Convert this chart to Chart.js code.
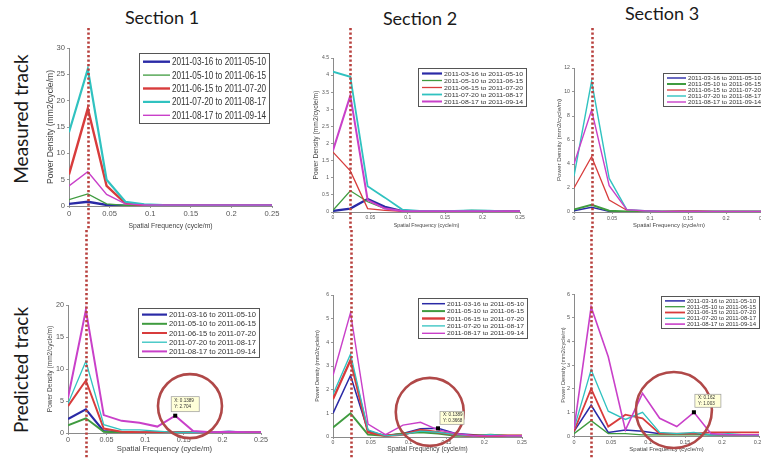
<!DOCTYPE html>
<html><head><meta charset="utf-8">
<script src="https://cdn.jsdelivr.net/npm/chart.js@4/dist/chart.umd.min.js"></script>
<style>
html,body{margin:0;padding:0;background:#fff;overflow:hidden}
#wrap{position:relative;width:761px;height:459px;overflow:hidden;background:#fff}
#wrap canvas{position:absolute}
.sec{position:absolute;font-family:Lato,"Open Sans",sans-serif;font-size:18px;color:#1a1a1a;white-space:nowrap;transform:translate(-50%,-50%)}
.row{position:absolute;font-family:Lato,"Open Sans",sans-serif;font-size:19px;color:#1a1a1a;white-space:nowrap;transform:translate(-50%,-50%) rotate(-90deg)}
</style></head>
<body><div id="wrap">
<div class="sec" style="left:162px;top:17px">Section 1</div>
<div class="sec" style="left:420px;top:18px">Section 2</div>
<div class="sec" style="left:662px;top:13px">Section 3</div>
<div class="row" style="left:20px;top:119px">Measured track</div>
<div class="row" style="left:20px;top:370px">Predicted track</div>
</div>
<script>
// ---- data ----
const freq = [0, 0.02315, 0.0463, 0.06944, 0.09259, 0.11574, 0.13889, 0.16204, 0.18519, 0.20833, 0.23148, 0.25463];
const seriesLabels = ['2011-03-16 to 2011-05-10','2011-05-10 to 2011-06-15','2011-06-15 to 2011-07-20','2011-07-20 to 2011-08-17','2011-08-17 to 2011-09-14'];
const xTicks = [0, 0.05, 0.1, 0.15, 0.2, 0.25];
const markFreq = 0.02315;

// Measured track, Section 1
const m1Blue    = [0.4, 0.8, 0.2, 0.05, 0.05, 0.05, 0.05, 0.05, 0.05, 0.05, 0.05, 0.05];
const m1Green   = [1.2, 2.3, 0.4, 0.1, 0.05, 0.05, 0.05, 0.05, 0.05, 0.05, 0.05, 0.05];
const m1Red     = [6.0, 18.5, 3.8, 0.5, 0.15, 0.1, 0.1, 0.1, 0.1, 0.1, 0.1, 0.1];
const m1Teal    = [14.0, 26.0, 5.0, 0.8, 0.3, 0.15, 0.1, 0.1, 0.1, 0.1, 0.1, 0.1];
const m1Magenta = [3.8, 6.5, 2.2, 0.4, 0.2, 0.2, 0.2, 0.2, 0.2, 0.2, 0.2, 0.2];
// Measured track, Section 2
const m2Blue    = [0.03, 0.1, 0.38, 0.15, 0.03, 0.02, 0.02, 0.02, 0.02, 0.02, 0.02, 0.02];
const m2Green   = [0.05, 0.62, 0.3, 0.1, 0.03, 0.02, 0.02, 0.03, 0.05, 0.04, 0.02, 0.02];
const m2Red     = [1.75, 1.2, 0.1, 0.05, 0.02, 0.02, 0.02, 0.02, 0.02, 0.02, 0.02, 0.02];
const m2Teal    = [4.1, 3.95, 0.75, 0.42, 0.07, 0.03, 0.03, 0.03, 0.05, 0.04, 0.02, 0.02];
const m2Magenta = [1.8, 3.4, 0.35, 0.1, 0.03, 0.02, 0.02, 0.02, 0.02, 0.02, 0.02, 0.02];
// Measured track, Section 3
const m3Blue    = [0.1, 0.4, 0.05, 0.03, 0.03, 0.03, 0.03, 0.03, 0.03, 0.03, 0.03, 0.03];
const m3Green   = [0.2, 0.6, 0.1, 0.05, 0.05, 0.05, 0.05, 0.05, 0.05, 0.05, 0.05, 0.05];
const m3Red     = [2.0, 4.6, 1.0, 0.15, 0.1, 0.05, 0.1, 0.1, 0.05, 0.05, 0.05, 0.05];
const m3Teal    = [3.0, 10.9, 2.8, 0.2, 0.1, 0.05, 0.05, 0.05, 0.05, 0.05, 0.05, 0.05];
const m3Magenta = [4.0, 8.5, 2.2, 0.2, 0.1, 0.05, 0.05, 0.05, 0.05, 0.05, 0.05, 0.05];
// Predicted track, Section 1
const p1Blue    = [2.2, 3.7, 0.3, 0.1, 0.05, 0.05, 0.05, 0.05, 0.05, 0.05, 0.05, 0.05];
const p1Green   = [1.2, 2.3, 0.2, 0.05, 0.05, 0.05, 0.05, 0.05, 0.05, 0.05, 0.05, 0.05];
const p1Red     = [4.2, 8.2, 0.7, 0.2, 0.1, 0.1, 0.1, 0.1, 0.1, 0.1, 0.1, 0.1];
const p1Teal    = [4.6, 11.2, 1.3, 0.5, 0.5, 0.3, 0.1, 0.1, 0.1, 0.3, 0.1, 0.1];
const p1Magenta = [5.5, 19.2, 2.8, 1.9, 1.6, 1.0, 2.704, 0.3, 0.1, 0.2, 0.1, 0.1];
// Predicted track, Section 2
const p2Blue    = [1.0, 2.6, 0.25, 0.05, 0.15, 0.35, 0.3668, 0.15, 0.1, 0.05, 0.05, 0.05];
const p2Green   = [0.4, 1.0, 0.1, 0.05, 0.15, 0.2, 0.15, 0.05, 0.05, 0.1, 0.05, 0.05];
const p2Red     = [1.6, 3.25, 0.2, 0.05, 0.1, 0.3, 0.2, 0.1, 0.05, 0.05, 0.05, 0.05];
const p2Teal    = [1.8, 3.5, 0.3, 0.05, 0.1, 0.25, 0.2, 0.1, 0.05, 0.1, 0.05, 0.05];
const p2Magenta = [2.6, 5.25, 0.55, 0.1, 0.5, 0.62, 0.3, 0.15, 0.05, 0.05, 0.05, 0.05];
// Predicted track, Section 3
const p3Blue    = [0.2, 1.3, 0.15, 0.25, 0.2, 0.1, 0.1, 0.1, 0.05, 0.05, 0.05, 0.05];
const p3Green   = [0.1, 0.65, 0.1, 0.1, 0.05, 0.05, 0.05, 0.05, 0.05, 0.05, 0.05, 0.05];
const p3Red     = [0.2, 2.0, 0.4, 0.9, 0.75, 0.1, 0.1, 0.1, 0.15, 0.15, 0.15, 0.15];
const p3Teal    = [0.3, 2.8, 1.05, 0.7, 1.0, 0.15, 0.1, 0.15, 0.05, 0.1, 0.05, 0.05];
const p3Magenta = [0.3, 5.45, 3.35, 0.25, 1.8, 0.75, 0.4, 1.003, 0.1, 0.05, 0.05, 0.05];

// ---- styles / layout ----
const seriesColors = ['#2a2aa6', '#3f9b3f', '#d83c3c', '#30c2c0', '#c940c9'];
const tickFamily = '"Liberation Sans", Arial, sans-serif';

const panels = [
  { series:[m1Blue,m1Green,m1Red,m1Teal,m1Magenta], widths:[2.4,1.3,2.4,2.2,1.4], yMax:30, yStep:5,
    plot:{L:69,T:48,R:272,B:206}, canvas:{l:44,t:28,r:282,b:230},
    tickFont:7.6, xTitleFont:6.8, xTitlePad:0, yTitleFont:8.6, yTitlePad:1.8,
    legend:{x:139,y:53,w:131,h:71,sample:27} },
  { series:[m2Blue,m2Green,m2Red,m2Teal,m2Magenta], widths:[2.2,1.3,1.3,1.8,2.0], yMax:4.5, yStep:0.5,
    plot:{L:333,T:58,R:520,B:212}, canvas:{l:310,t:28,r:532,b:230},
    tickFont:5, xTitleFont:5.3, xTitlePad:1.1, yTitleFont:6.7, yTitlePad:2.4,
    legend:{x:418,y:68,w:109,h:39,sample:20} },
  { series:[m3Blue,m3Green,m3Red,m3Teal,m3Magenta], widths:[1.4,2.0,1.3,1.4,1.4], yMax:12, yStep:2,
    plot:{L:574,T:68,R:764,B:212}, canvas:{l:553,t:28,r:772,b:230},
    tickFont:5.2, xTitleFont:5.8, xTitlePad:1.1, yTitleFont:6.2, yTitlePad:2.4,
    legend:{x:663,y:73,w:102,h:34,sample:19} },
  { series:[p1Blue,p1Green,p1Red,p1Teal,p1Magenta], widths:[2.2,2.0,2.0,1.3,2.0], yMax:20, yStep:5,
    plot:{L:68,T:305,R:261,B:433}, canvas:{l:44,t:230,r:272,b:459},
    tickFont:7.2, xTitleFont:7.7, xTitlePad:5.2, yTitleFont:6.5, yTitlePad:2.6,
    legend:{x:138,y:308,w:122,h:50,sample:25},
    circle:{x:0.158, y:4.2, r:32},
    tip:{series:4, index:6, dx:-4, dy:-19, w:28, h:15} },
  { series:[p2Blue,p2Green,p2Red,p2Teal,p2Magenta], widths:[1.5,2.0,2.4,1.3,1.4], yMax:6, yStep:1,
    plot:{L:333,T:295,R:522,B:437}, canvas:{l:310,t:230,r:532,b:459},
    tickFont:5.1, xTitleFont:6.5, xTitlePad:6.1, yTitleFont:5.4, yTitlePad:4.3,
    legend:{x:418,y:298,w:110,h:41,sample:23},
    circle:{x:0.128, y:1.06, r:34},
    tip:{series:0, index:6, dx:2, dy:-17, w:24, h:13} },
  { series:[p3Blue,p3Green,p3Red,p3Teal,p3Magenta], widths:[1.5,1.3,1.8,1.3,1.6], yMax:6, yStep:1,
    plot:{L:574,T:294,R:759,B:436}, canvas:{l:553,t:230,r:770,b:459},
    tickFont:5.5, xTitleFont:6.0, xTitlePad:6.1, yTitleFont:5.7, yTitlePad:7.1,
    legend:{x:661,y:296,w:99,h:33,sample:20},
    circle:{x:0.135, y:1.1, r:38},
    tip:{series:4, index:7, dx:1, dy:-18, w:26, h:13} }
];

function fmt(v){ return String(+(+v).toFixed(3)); }

function overlay(p){
  return {
    id:'overlay',
    afterDraw(chart){
      const ctx = chart.ctx, xs = chart.scales.x, ys = chart.scales.y;
      const ox = p.canvas.l, oy = p.canvas.t;
      ctx.save();
      // legend
      const L = p.legend, lx = L.x-ox, ly = L.y-oy;
      ctx.fillStyle = '#ffffff';
      ctx.fillRect(lx, ly, L.w, L.h);
      ctx.strokeStyle = '#555'; ctx.lineWidth = 1; ctx.setLineDash([]);
      ctx.strokeRect(lx+0.5, ly+0.5, L.w-1, L.h-1);
      const rowH = (L.h-4)/5;
      const tx = lx + 4 + L.sample + 2, tw = L.w - (L.sample + 6) - 4;
      seriesLabels.forEach((lab,i)=>{
        const cy = ly + 2 + rowH*(i+0.5);
        ctx.beginPath(); ctx.moveTo(lx+4, cy); ctx.lineTo(lx+4+L.sample, cy);
        ctx.strokeStyle = seriesColors[i]; ctx.lineWidth = p.widths[i]; ctx.stroke();
        const fs = rowH*0.82;
        ctx.font = fs + 'px ' + tickFamily;
        const mw = ctx.measureText(lab).width;
        ctx.save(); ctx.translate(tx, cy); ctx.scale(tw/mw, 1);
        ctx.fillStyle = '#333'; ctx.textBaseline = 'middle'; ctx.textAlign = 'left';
        ctx.fillText(lab, 0, 0.5); ctx.restore();
      });
      // circle
      if (p.circle){
        ctx.beginPath();
        ctx.arc(xs.getPixelForValue(p.circle.x), ys.getPixelForValue(p.circle.y), p.circle.r, 0, Math.PI*2);
        ctx.strokeStyle = '#b04848'; ctx.lineWidth = 2.6; ctx.stroke();
      }
      // data tip
      if (p.tip){
        const t = p.tip, xv = freq[t.index], yv = p.series[t.series][t.index];
        const px = xs.getPixelForValue(xv), py = ys.getPixelForValue(yv);
        ctx.fillStyle = '#000'; ctx.fillRect(px-2, py-2, 4, 4);
        const bx = px + t.dx, by = py + t.dy;
        ctx.fillStyle = '#ffffd8'; ctx.fillRect(bx, by, t.w, t.h);
        ctx.strokeStyle = '#999'; ctx.lineWidth = 0.7; ctx.strokeRect(bx, by, t.w, t.h);
        ctx.fillStyle = '#333'; ctx.font = '4.6px ' + tickFamily; ctx.textBaseline = 'middle'; ctx.textAlign = 'left';
        ctx.fillText('X: ' + (+xv.toFixed(4)), bx+3, by + t.h*0.3);
        ctx.fillText('Y: ' + (+yv.toFixed(4)), bx+3, by + t.h*0.7);
      }
      // red dotted reference line
      const mx = Math.round(xs.getPixelForValue(markFreq)) + 0.5;
      ctx.beginPath(); ctx.moveTo(mx, 0); ctx.lineTo(mx, chart.height);
      ctx.strokeStyle = '#b8423f'; ctx.lineWidth = 2.6; ctx.setLineDash([2.2, 2.3]); ctx.stroke();
      ctx.restore();
    }
  };
}

const wrap = document.getElementById('wrap');
panels.forEach(p=>{
  const cw = p.canvas.r - p.canvas.l, ch = p.canvas.b - p.canvas.t;
  const cv = document.createElement('canvas');
  cv.width = cw; cv.height = ch;
  cv.style.left = p.canvas.l + 'px'; cv.style.top = p.canvas.t + 'px';
  cv.style.width = cw + 'px'; cv.style.height = ch + 'px';
  wrap.appendChild(cv);
  const datasets = p.series.map((arr,i)=>({
    label: seriesLabels[i],
    data: arr.map((v,k)=>({x: freq[k], y: v})),
    borderColor: seriesColors[i], backgroundColor: seriesColors[i],
    borderWidth: p.widths[i], pointRadius: 0, tension: 0, fill: false, order: 5 - i
  }));
  const yTicks = [];
  for (let v = 0; v <= p.yMax + 1e-9; v += p.yStep) yTicks.push(+v.toFixed(3));
  new Chart(cv, {
    type: 'line',
    data: { datasets },
    options: {
      responsive: false, animation: false, devicePixelRatio: 1,
      layout: { padding: { top: p.plot.T - p.canvas.t, right: p.canvas.r - p.plot.R, left: 0, bottom: 0 } },
      plugins: { legend: { display: false }, tooltip: { enabled: false } },
      scales: {
        x: {
          type: 'linear', min: 0, max: 0.25,
          afterBuildTicks: s => { s.ticks = xTicks.map(v => ({ value: v })); },
          ticks: { callback: v => fmt(v), font: { size: p.tickFont, family: tickFamily }, color: '#555', padding: 1, maxRotation: 0, autoSkip: false },
          grid: { display: true, drawOnChartArea: false, drawTicks: true, tickLength: 2, color: '#999' },
          border: { display: true, color: '#8a8a8a', width: 1 },
          title: { display: true, text: 'Spatial Frequency (cycle/m)', font: { size: p.xTitleFont, family: tickFamily }, color: '#444', padding: { top: 0, bottom: p.xTitlePad } },
          afterFit: s => { s.height = p.canvas.b - p.plot.B; }
        },
        y: {
          min: 0, max: p.yMax,
          afterBuildTicks: s => { s.ticks = yTicks.map(v => ({ value: v })); },
          ticks: { callback: v => fmt(v), font: { size: p.tickFont, family: tickFamily }, color: '#555', padding: 2, autoSkip: false },
          grid: { display: true, drawOnChartArea: false, drawTicks: true, tickLength: 2, color: '#999' },
          border: { display: true, color: '#8a8a8a', width: 1 },
          title: { display: true, text: 'Power Density (mm2/cycle/m)', font: { size: p.yTitleFont, family: tickFamily }, color: '#444', padding: { top: p.yTitlePad, bottom: 0 } },
          afterFit: s => { s.width = p.plot.L - p.canvas.l; }
        }
      }
    },
    plugins: [overlay(p)]
  });
});
</script>
</body></html>
